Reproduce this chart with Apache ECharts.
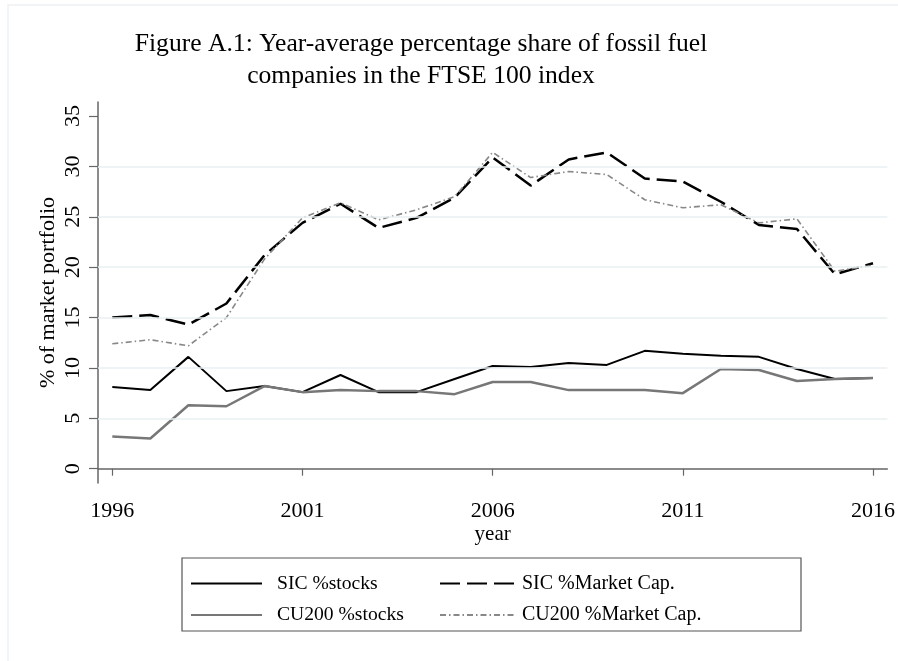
<!DOCTYPE html>
<html>
<head>
<meta charset="utf-8">
<script src="https://cdn.jsdelivr.net/npm/echarts@6/dist/echarts.min.js"></script>
<style>
html,body{margin:0;padding:0;background:#fff;}
#chart{width:898px;height:661px;}
</style>
</head>
<body>
<div id="chart"></div>
<script>
const years = [1996,1997,1998,1999,2000,2001,2002,2003,2004,2005,2006,2007,2008,2009,2010,2011,2012,2013,2014,2015,2016];
const sicStocks = [8.1,7.8,11.1,7.7,8.2,7.6,9.3,7.6,7.6,8.9,10.2,10.1,10.5,10.3,11.7,11.4,11.2,11.1,9.9,8.9,9.0];
const sicMarketCap = [15.0,15.25,14.3,16.4,21.2,24.4,26.3,23.9,24.9,26.9,30.9,28.1,30.7,31.4,28.8,28.5,26.5,24.2,23.8,19.3,20.4];
const cuStocks = [3.2,3.0,6.3,6.2,8.2,7.6,7.8,7.7,7.7,7.4,8.6,8.6,7.8,7.8,7.8,7.5,9.9,9.8,8.7,8.9,9.0];
const cuMarketCap = [12.4,12.8,12.2,15.0,20.8,24.9,26.4,24.7,25.7,27.0,31.4,28.9,29.5,29.2,26.7,25.9,26.2,24.4,24.8,19.6,20.2];
const seriesNames = ['SIC %stocks','SIC %Market Cap.','CU200 %stocks','CU200 %Market Cap.'];
const yTicks = [0,5,10,15,20,25,30,35];
const xTicks = [1996,2001,2006,2011,2016];
const gridValues = [5,10,15,20,25,30];
const titleText = 'Figure A.1: Year-average percentage share of fossil fuel\ncompanies in the FTSE 100 index';

const pairs = arr => years.map((y,i) => [y, arr[i]]);
const FONT = '"Liberation Serif", "Times New Roman", serif';

const chart = echarts.init(document.getElementById('chart'), null, {renderer:'canvas'});
chart.setOption({
  animation: false,
  backgroundColor: '#ffffff',
  textStyle: {fontFamily: FONT, color: '#000'},
  grid: {left: 98, right: 10, top: 102, bottom: 178, containLabel: false},
  xAxis: {
    type: 'value', min: 1995.624, max: 2016.376,
    name: 'year', nameLocation: 'middle', nameGap: 41, nameMoveOverlap: false,
    nameTextStyle: {fontFamily: FONT, fontSize: 21, color: '#000'},
    axisLine: {show: true, lineStyle: {color: '#666', width: 1.5}},
    axisTick: {show: true, length: 7, customValues: xTicks, lineStyle: {color: '#666', width: 1.2}},
    axisLabel: {customValues: xTicks, margin: 17, fontFamily: FONT, fontSize: 22, color: '#000', formatter: v => String(v)},
    splitLine: {show: false}
  },
  yAxis: {
    type: 'value', min: -1.42, max: 36.4,
    name: '% of market portfolio', nameLocation: 'middle', nameGap: 39, nameMoveOverlap: false,
    nameTextStyle: {fontFamily: FONT, fontSize: 22, color: '#000'},
    axisLine: {show: true, lineStyle: {color: '#666', width: 1.5}},
    axisTick: {show: true, length: 9, customValues: yTicks, lineStyle: {color: '#666', width: 1.2}},
    axisLabel: {customValues: yTicks, rotate: 90, margin: 14, fontFamily: FONT, fontSize: 22, color: '#000'},
    splitLine: {show: false}
  },
  legend: [
    {
      data: [seriesNames[0], seriesNames[2]], orient: 'vertical', left: 190, top: 573.5, padding: 0,
      itemWidth: 71, itemHeight: 14, itemGap: 11.6, selectedMode: false,
      itemStyle: {opacity: 0},
      textStyle: {fontFamily: FONT, fontSize: 19.6, color: '#000', lineHeight: 20, padding: [0,0,0,10]}
    },
    {
      data: [seriesNames[1], seriesNames[3]], orient: 'vertical', left: 439, top: 573.5, padding: 0,
      itemWidth: 74, itemHeight: 14, itemGap: 11.6, selectedMode: false,
      itemStyle: {opacity: 0},
      textStyle: {fontFamily: FONT, fontSize: 20, color: '#000', lineHeight: 20, padding: [0,0,0,3]}
    }
  ],
  graphic: [
    {type: 'rect', z: -10, silent: true, shape: {x: 8, y: 5, width: 1000, height: 1000}, style: {fill: 'none', stroke: '#edf2f6', lineWidth: 1.5}},
    {type: 'text', silent: true, style: {text: titleText, x: 421, y: 28, align: 'center', verticalAlign: 'top', font: '25.6px ' + FONT, lineHeight: 32, fill: '#000'}},
    {type: 'rect', silent: true, shape: {x: 182, y: 558, width: 619, height: 73}, style: {fill: 'none', stroke: '#555', lineWidth: 1.2}}
  ],
  series: [
    {
      type: 'line', name: '_grid', data: [], z: 1, silent: true,
      markLine: {silent: true, symbol: 'none', label: {show: false},
        lineStyle: {type: 'solid', color: '#e8eff2', width: 1.6},
        data: gridValues.map(v => ({yAxis: v}))}
    },
    {type: 'line', name: seriesNames[0], data: pairs(sicStocks), symbol: 'none', lineStyle: {color: '#000', width: 2, type: 'solid'}, itemStyle: {color: '#000'}},
    {type: 'line', name: seriesNames[1], data: pairs(sicMarketCap), symbol: 'none', lineStyle: {color: '#000', width: 2.5, type: [20,7]}, itemStyle: {color: '#000'}},
    {type: 'line', name: seriesNames[2], data: pairs(cuStocks), symbol: 'none', lineStyle: {color: '#777', width: 2.5, type: 'solid'}, itemStyle: {color: '#777'}},
    {type: 'line', name: seriesNames[3], data: pairs(cuMarketCap), symbol: 'none', lineStyle: {color: '#888', width: 1.6, type: [6,3,1.5,3]}, itemStyle: {color: '#888'}}
  ]
});
</script>
</body>
</html>
